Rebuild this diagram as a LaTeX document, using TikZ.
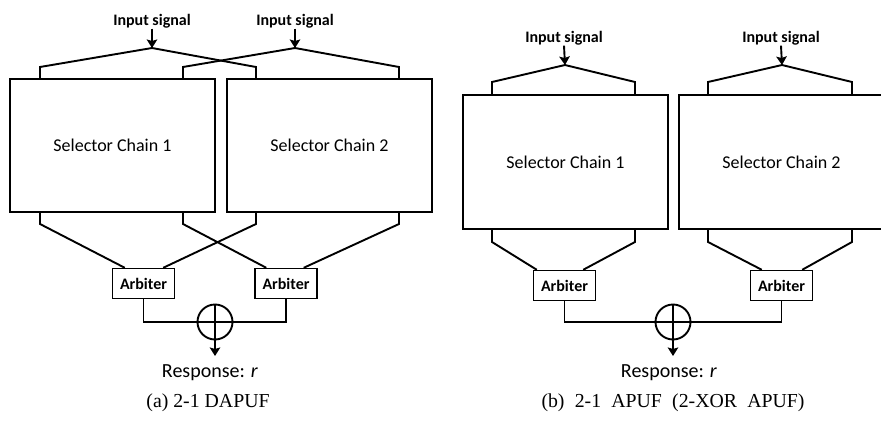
\documentclass[tikz,border=0pt]{standalone}
\usepackage{fontspec}
\setmainfont{Carlito}
\newfontfamily\capfont{Liberation Serif}
\usetikzlibrary{arrows.meta,calc}
\begin{document}
\begin{tikzpicture}[x=1pt,y=-1pt, line width=1.9pt,
  chainbox/.style={draw, minimum width=205pt, minimum height=133pt, inner sep=0pt, font=\fontsize{18}{20}\selectfont},
  arbbox/.style={draw, line width=1.4pt, minimum width=62pt, minimum height=30pt, inner sep=0pt, font=\bfseries\fontsize{16}{18}\selectfont},
  inlabel/.style={font=\bfseries\fontsize{16}{18}\selectfont, anchor=base, inner sep=0pt},
  resp/.style={font=\fontsize{20}{22}\selectfont, anchor=base, inner sep=0pt},
  caplabel/.style={font=\capfont\fontsize{19.8}{22}\selectfont, anchor=base, inner sep=0pt},
  xorgate/.style={draw, circle, minimum size=35pt, inner sep=0pt},
  sig/.style={-{Stealth[length=8.5pt,width=10.5pt,inset=1.5pt]}}
]
\useasboundingbox (0,0) rectangle (881,431);
\clip (0,0) rectangle (881,431);
% ---------------- (a) 2-1 DAPUF ----------------
\node[chainbox] (A1) at (112.5,145.5) {Selector Chain 1};
\node[chainbox] (A2) at (329.5,145.5) {Selector Chain 2};
\node[arbbox] (AA1) at (143.5,283.5) {Arbiter};
\node[arbbox] (AA2) at (286,283.5) {Arbiter};
\node[xorgate] (AX) at (215,322) {};
\node[inlabel] (AI1) at (152,25) {Input signal};
\node[inlabel] (AI2) at (295,25) {Input signal};
\node[resp] (AR) at (210,377) {Response: \textit{r}};
\node[caplabel] (AC) at (208,407) {(a) 2-1 DAPUF};
\coordinate (AP1) at (152,48);
\coordinate (AP2) at (295,48);
\coordinate (AL1) at (40,67);
\coordinate (AL2) at (256,67);
\coordinate (AL3) at (183,67);
\coordinate (AL4) at (399,67);
\coordinate (AB1) at (40,224);
\coordinate (AB2) at (183,224);
\coordinate (AB3) at (256,224);
\coordinate (AB4) at (399,224);
\coordinate (AO) at (215,356);
\draw[sig] (AI1.south) -- (AP1);
\draw[sig] (AI2.south) -- (AP2);
\draw (AL1 |- A1.north) -- (AL1) -- (AP1) -- (AL2) -- (AL2 |- A2.north);
\draw (AL3 |- A1.north) -- (AL3) -- (AP2) -- (AL4) -- (AL4 |- A2.north);
\draw (AB1 |- A1.south) -- (AB1) -- ($(AA1.north west)+(13,0)$);
\draw (AB3 |- A2.south) -- (AB3) -- ($(AA1.north east)+(-12,0)$);
\draw (AB2 |- A1.south) -- (AB2) -- ($(AA2.north west)+(12,0)$);
\draw (AB4 |- A2.south) -- (AB4) -- ($(AA2.north east)+(-14,0)$);
\draw (AA1.south) |- (AX.west);
\draw (AA2.south) |- (AX.east);
\draw (AX.west) -- (AX.east);
\draw[sig] (AX.north) -- (AO);
% ---------------- (b) 2-1 APUF ----------------
\node[chainbox, minimum height=134pt] (B1) at (565.5,162) {Selector Chain 1};
\node[chainbox, minimum height=134pt] (B2) at (781.5,162) {Selector Chain 2};
\node[arbbox] (BA1) at (564.5,285.5) {Arbiter};
\node[arbbox] (BA2) at (781.5,285.5) {Arbiter};
\node[xorgate] (BX) at (673,322) {};
\node[inlabel] (BI1) at (564,42) {Input signal};
\node[inlabel] (BI2) at (781,42) {Input signal};
\node[resp] (BR) at (669,377) {Response: \textit{r}};
\node[caplabel] (BC) at (673,407) {\makebox[263pt][s]{(b) 2-1 APUF (2-XOR APUF)}};
\coordinate (BP1) at (565,65);
\coordinate (BP2) at (782,65);
\coordinate (BL1) at (492,82);
\coordinate (BL2) at (635,82);
\coordinate (BL3) at (708,82);
\coordinate (BL4) at (852,82);
\coordinate (BB1) at (492,242);
\coordinate (BB2) at (635,242);
\coordinate (BB3) at (708,242);
\coordinate (BB4) at (852,242);
\coordinate (BO) at (673,356);
\draw[sig] (BI1.south) -- (BP1);
\draw[sig] (BI2.south) -- (BP2);
\draw (BL1 |- B1.north) -- (BL1) -- (BP1) -- (BL2) -- (BL2 |- B1.north);
\draw (BL3 |- B2.north) -- (BL3) -- (BP2) -- (BL4) -- (BL4 |- B2.north);
\draw (BB1 |- B1.south) -- (BB1) -- ($(BA1.north west)+(4,0)$);
\draw (BB2 |- B1.south) -- (BB2) -- ($(BA1.north east)+(-13,0)$);
\draw (BB3 |- B2.south) -- (BB3) -- ($(BA2.north west)+(12,0)$);
\draw (BB4 |- B2.south) -- (BB4) -- ($(BA2.north east)+(-11,0)$);
\draw (BA1.south) |- (BX.west);
\draw (BA2.south) |- (BX.east);
\draw (BX.west) -- (BX.east);
\draw[sig] (BX.north) -- (BO);
\end{tikzpicture}
\end{document}
